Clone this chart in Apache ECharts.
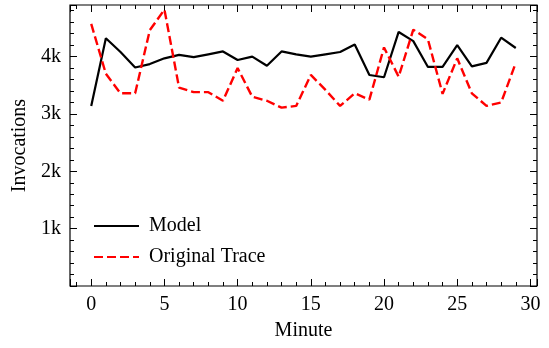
<!DOCTYPE html>
<html>
<head>
<meta charset="utf-8">
<script src="https://cdn.jsdelivr.net/npm/echarts@6/dist/echarts.min.js"></script>
<style>
  html, body { margin: 0; padding: 0; background: #fff; }
  #chart { width: 549px; height: 348px; }
</style>
</head>
<body>
<div id="chart"></div>
<script>
// minutes 0..29
const minutes = [0, 1, 2, 3, 4, 5, 6, 7, 8, 9, 10, 11, 12, 13, 14, 15, 16, 17, 18, 19, 20, 21, 22, 23, 24, 25, 26, 27, 28, 29];
const modelValues = [3140, 4320, 4080, 3810, 3870, 3970, 4030, 3990, 4040, 4090, 3940, 4000, 3840, 4090, 4040,
                     4000, 4040, 4080, 4210, 3680, 3640, 4430, 4270, 3820, 3820, 4200, 3830, 3890, 4330, 4150];
const traceValues = [4570, 3700, 3360, 3360, 4460, 4820, 3460, 3380, 3380, 3230, 3800, 3300, 3230, 3110, 3140,
                     3680, 3420, 3140, 3360, 3250, 4160, 3650, 4470, 4300, 3350, 3970, 3360, 3140, 3200, 3890];
const yTicks = [1000, 2000, 3000, 4000];

const font = 'Liberation Serif';
const xMin = -1.45, xMax = 30.45;
const yMin = 0, yMax = 4900;

const chart = echarts.init(document.getElementById('chart'));

const pairs = (vals) => minutes.map((m, i) => [m, vals[i]]);

// one tick-only axis (major or minor) for a given side
const xTickAxis = (pos, major) => ({
    type: 'value', position: pos, min: xMin, max: xMax,
    splitNumber: major ? 6 : 32,
    minInterval: major ? 5 : 1, maxInterval: major ? 5 : 1,
    axisLine: { show: false, onZero: false },
    axisTick: { show: true, inside: true, length: major ? 7 : 4, lineStyle: { color: '#000', width: 1 } },
    axisLabel: {
        show: major && pos === 'bottom', margin: 9,
        fontFamily: font, fontSize: 20, color: '#000',
        formatter: v => Number.isInteger(v) ? String(v) : ''
    },
    splitLine: { show: false },
    name: major && pos === 'bottom' ? 'Minute' : '',
    nameLocation: 'middle', nameGap: 35,
    nameTextStyle: { fontFamily: font, fontSize: 20, color: '#000' }
});

const yTickAxis = (pos, major) => ({
    type: 'value', position: pos, min: yMin, max: yMax,
    interval: major ? 1000 : 200,
    axisLine: { show: false, onZero: false },
    axisTick: { show: true, inside: true, length: major ? 7 : 4, lineStyle: { color: '#000', width: 1 } },
    axisLabel: {
        show: major && pos === 'left', margin: 9,
        fontFamily: font, fontSize: 20, color: '#000',
        formatter: v => yTicks.includes(v) ? (v / 1000) + 'k' : ''
    },
    splitLine: { show: false },
    name: major && pos === 'left' ? 'Invocations' : '',
    nameLocation: 'middle', nameGap: 33,
    nameTextStyle: { fontFamily: font, fontSize: 20, color: '#000' }
});

const option = {
    animation: false,
    backgroundColor: '#fff',
    grid: {
        left: 70, right: 12, top: 5, bottom: 62,
        show: true, borderColor: '#000', borderWidth: 1.2, backgroundColor: 'transparent'
    },
    legend: {
        orient: 'vertical',
        left: 88, top: 211,
        itemWidth: 45, itemHeight: 14, itemGap: 11,
        itemStyle: { opacity: 0 },
        textStyle: { fontFamily: font, fontSize: 20, color: '#000', padding: [0, 0, 0, 5] },
        data: ['Model', 'Original Trace']
    },
    xAxis: [
        xTickAxis('bottom', true), xTickAxis('bottom', false),
        xTickAxis('top', true), xTickAxis('top', false)
    ],
    yAxis: [
        yTickAxis('left', true), yTickAxis('left', false),
        yTickAxis('right', true), yTickAxis('right', false)
    ],
    series: [
        {
            name: 'Model', type: 'line', data: pairs(modelValues),
            symbol: 'none', xAxisIndex: 0, yAxisIndex: 0,
            lineStyle: { color: '#000', width: 2.2 },
            itemStyle: { color: '#000' }
        },
        {
            name: 'Original Trace', type: 'line', data: pairs(traceValues),
            symbol: 'none', xAxisIndex: 0, yAxisIndex: 0,
            lineStyle: { color: '#ff0000', width: 2.4, type: [9, 4] },
            itemStyle: { color: '#ff0000' }
        }
    ]
};

chart.setOption(option);
</script>
</body>
</html>
